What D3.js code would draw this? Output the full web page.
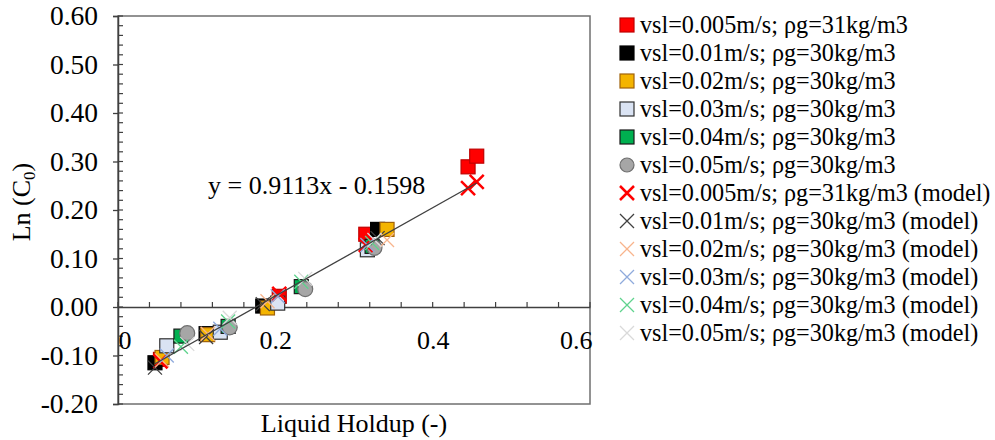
<!DOCTYPE html>
<html><head><meta charset="utf-8">
<script src="https://cdn.jsdelivr.net/npm/d3@7"></script>
<style>
body{margin:0;background:#fff}
svg text{font-family:"Liberation Serif","Times New Roman",serif !important;fill:#000}
</style>
</head><body>
<svg id="c" width="995" height="440"></svg>
<script>
// ---------- data ----------
const seriesLabels = [
  "vsl=0.005m/s; ρg=31kg/m3",
  "vsl=0.01m/s; ρg=30kg/m3",
  "vsl=0.02m/s; ρg=30kg/m3",
  "vsl=0.03m/s; ρg=30kg/m3",
  "vsl=0.04m/s; ρg=30kg/m3",
  "vsl=0.05m/s; ρg=30kg/m3"
];
const xRed    = [0.054, 0.205, 0.315, 0.445, 0.456];
const yRed    = [-0.108, 0.022, 0.150, 0.289, 0.311];
const mRed    = [-0.112, 0.027, 0.128, 0.245, 0.258];

const xBlack  = [0.047, 0.112, 0.184, 0.330];
const yBlack  = [-0.115, -0.055, 0.002, 0.160];
const mBlack  = [-0.125, -0.062, 0.006, 0.142];

const xOrange = [0.056, 0.114, 0.190, 0.342];
const yOrange = [-0.104, -0.057, -0.002, 0.160];
const mOrange = [-0.110, -0.055, 0.012, 0.138];

const xLblue  = [0.062, 0.130, 0.203, 0.317];
const yLblue  = [-0.080, -0.052, 0.008, 0.118];
const mLblue  = [-0.100, -0.045, 0.022, 0.128];

const xGreen  = [0.080, 0.140, 0.233, 0.323];
const yGreen  = [-0.060, -0.040, 0.042, 0.125];
const mGreen  = [-0.082, -0.030, 0.052, 0.132];

const xGray   = [0.088, 0.142, 0.238, 0.326];
const yGray   = [-0.054, -0.042, 0.037, 0.122];
const mGray   = [-0.076, -0.022, 0.058, 0.138];

const trendSlope = 0.9113, trendIntercept = -0.1598;
const xTicks = [0, 0.2, 0.4, 0.6];
const yTicks = [-0.2, -0.1, 0, 0.1, 0.2, 0.3, 0.4, 0.5, 0.6];

// ---------- styles ----------
const SERIF = '"Liberation Serif","Times New Roman",serif';
const measured = [
  {x:xRed,   y:yRed,   shape:"sq",  fill:"#ff0000", stroke:"#c00000"},
  {x:xBlack, y:yBlack, shape:"sq",  fill:"#000000", stroke:"#000000"},
  {x:xOrange,y:yOrange,shape:"sq",  fill:"#f4b400", stroke:"#a0620a"},
  {x:xLblue, y:yLblue, shape:"sq",  fill:"#dae3f3", stroke:"#303030"},
  {x:xGreen, y:yGreen, shape:"sq",  fill:"#00b050", stroke:"#1a1a1a"},
  {x:xGray,  y:yGray,  shape:"ci",  fill:"#a6a6a6", stroke:"#6f6f6f"}
];
const model = [
  {x:xRed,   y:mRed,   color:"#ff0000", w:2.5},
  {x:xBlack, y:mBlack, color:"#404040", w:1.3},
  {x:xOrange,y:mOrange,color:"#f8b48c", w:1.3},
  {x:xLblue, y:mLblue, color:"#8faadc", w:1.3},
  {x:xGreen, y:mGreen, color:"#5fd38d", w:1.3},
  {x:xGray,  y:mGray,  color:"#d9d9d9", w:1.3}
];

const svg = d3.select("#c");
const L = 118, R = 590, T = 16, B = 404;
const x = d3.scaleLinear().domain([0, 0.6]).range([L, R]);
const y = d3.scaleLinear().domain([-0.2, 0.6]).range([B, T]);
const FS = 26;

// plot frame
svg.append("rect").attr("x", L).attr("y", T).attr("width", R - L).attr("height", B - T)
  .attr("fill", "none").attr("stroke", "#6f6f6f").attr("stroke-width", 1.5);

// y axis
const fmtY = d => d3.format(".2f")(d).replace("\u2212", "-");
const yAx = svg.append("g").attr("transform", `translate(${L},0)`)
  .call(d3.axisLeft(y).tickValues(yTicks).tickFormat(fmtY).tickSize(5).tickPadding(15));
yAx.attr("font-family", SERIF);
yAx.select(".domain").attr("stroke", "#404040").attr("stroke-width", 1.5);
yAx.selectAll(".tick line").attr("stroke", "#404040").attr("stroke-width", 1.3);
yAx.selectAll("text").style("font-size", "27.5px").style("font-family", SERIF).attr("fill", "#000");
// y minor ticks (inside)
const yMinor = d3.range(-0.2, 0.6001, 0.02);
svg.append("g").selectAll("line").data(yMinor).join("line")
  .attr("x1", L).attr("x2", L + 5).attr("y1", d => y(d)).attr("y2", d => y(d))
  .attr("stroke", "#404040").attr("stroke-width", 1.2);

// x axis at y = 0
const xAx = svg.append("g").attr("transform", `translate(0,${y(0)})`)
  .call(d3.axisBottom(x).tickValues(xTicks).tickFormat(d => d === 0 ? "0" : d3.format(".1f")(d)).tickSize(0).tickPadding(24));
xAx.attr("font-family", SERIF);
xAx.select(".domain").attr("stroke", "#404040").attr("stroke-width", 1.5);
xAx.selectAll("text").style("font-size", FS + "px").style("font-family", SERIF).attr("fill", "#000");
xAx.selectAll(".tick text").filter(d => d === 0).attr("text-anchor", "start").attr("dx", 0);
xAx.selectAll(".tick text").filter(d => d === 0.6).attr("text-anchor", "end").attr("dx", 2);
const xMinor = d3.range(0, 0.6001, 0.04);
svg.append("g").selectAll("line").data(xMinor).join("line")
  .attr("x1", d => x(d)).attr("x2", d => x(d)).attr("y1", y(0)).attr("y2", y(0) - 5)
  .attr("stroke", "#404040").attr("stroke-width", 1.2);

// measured markers
const S = 14;
measured.forEach(s => {
  const pts = s.x.map((v, i) => [v, s.y[i]]);
  const g = svg.append("g");
  if (s.shape === "sq") {
    g.selectAll("rect").data(pts).join("rect")
      .attr("x", d => x(d[0]) - S / 2).attr("y", d => y(d[1]) - S / 2)
      .attr("width", S).attr("height", S)
      .attr("fill", s.fill).attr("stroke", s.stroke).attr("stroke-width", 1.2);
  } else {
    g.selectAll("circle").data(pts).join("circle")
      .attr("cx", d => x(d[0])).attr("cy", d => y(d[1])).attr("r", 7.5)
      .attr("fill", s.fill).attr("stroke", s.stroke).attr("stroke-width", 1.2);
  }
});

// model markers (X)
const H = 7;
function xPath(cx, cy, h) {
  return `M${cx - h},${cy - h}L${cx + h},${cy + h}M${cx - h},${cy + h}L${cx + h},${cy - h}`;
}
model.forEach(s => {
  const pts = s.x.map((v, i) => [v, s.y[i]]);
  svg.append("g").selectAll("path").data(pts).join("path")
    .attr("d", d => xPath(x(d[0]), y(d[1]), H))
    .attr("stroke", s.color).attr("stroke-width", s.w).attr("fill", "none");
});

// trendline
const allX = [].concat(xRed, xBlack, xOrange, xLblue, xGreen, xGray);
const tx = d3.extent(allX);
svg.append("line")
  .attr("x1", x(tx[0])).attr("y1", y(trendSlope * tx[0] + trendIntercept))
  .attr("x2", x(tx[1])).attr("y2", y(trendSlope * tx[1] + trendIntercept))
  .attr("stroke", "#404040").attr("stroke-width", 1.3);

svg.append("text").attr("x", 208).attr("y", 194)
  .style("font-size", FS + "px").style("font-family", SERIF)
  .text(`y = ${trendSlope}x - ${Math.abs(trendIntercept)}`);

// axis titles
svg.append("text").attr("x", (L + R) / 2).attr("y", 432).attr("text-anchor", "middle")
  .style("font-size", FS + "px").style("font-family", SERIF).text("Liquid Holdup (-)");
const yt = svg.append("text").attr("transform", "translate(30,202) rotate(-90)")
  .attr("text-anchor", "middle").style("font-size", FS + "px").style("font-family", SERIF);
yt.append("tspan").text("Ln (C");
yt.append("tspan").attr("dy", 5).style("font-size", "17px").text("0");
yt.append("tspan").attr("dy", -5).text(")");

// legend
const LX = 627, LY0 = 25, LDY = 28, LFS = 24.2;
const leg = svg.append("g").attr("font-family", SERIF);
measured.forEach((s, i) => {
  const cy = LY0 + i * LDY;
  if (s.shape === "sq") {
    leg.append("rect").attr("x", LX - 7).attr("y", cy - 7).attr("width", 14).attr("height", 14)
      .attr("fill", s.fill).attr("stroke", s.stroke).attr("stroke-width", 1.2);
  } else {
    leg.append("circle").attr("cx", LX).attr("cy", cy).attr("r", 7)
      .attr("fill", s.fill).attr("stroke", s.stroke).attr("stroke-width", 1.2);
  }
  leg.append("text").attr("x", LX + 13).attr("y", cy).attr("dy", "0.33em")
    .style("font-size", LFS + "px").style("font-family", SERIF).text(seriesLabels[i]);
});
model.forEach((s, i) => {
  const cy = LY0 + (i + 6) * LDY;
  leg.append("path").attr("d", xPath(LX, cy, 7))
    .attr("stroke", s.color).attr("stroke-width", s.w).attr("fill", "none");
  leg.append("text").attr("x", LX + 13).attr("y", cy).attr("dy", "0.33em")
    .style("font-size", LFS + "px").style("font-family", SERIF).text(seriesLabels[i] + " (model)");
});
</script>
</body></html>
